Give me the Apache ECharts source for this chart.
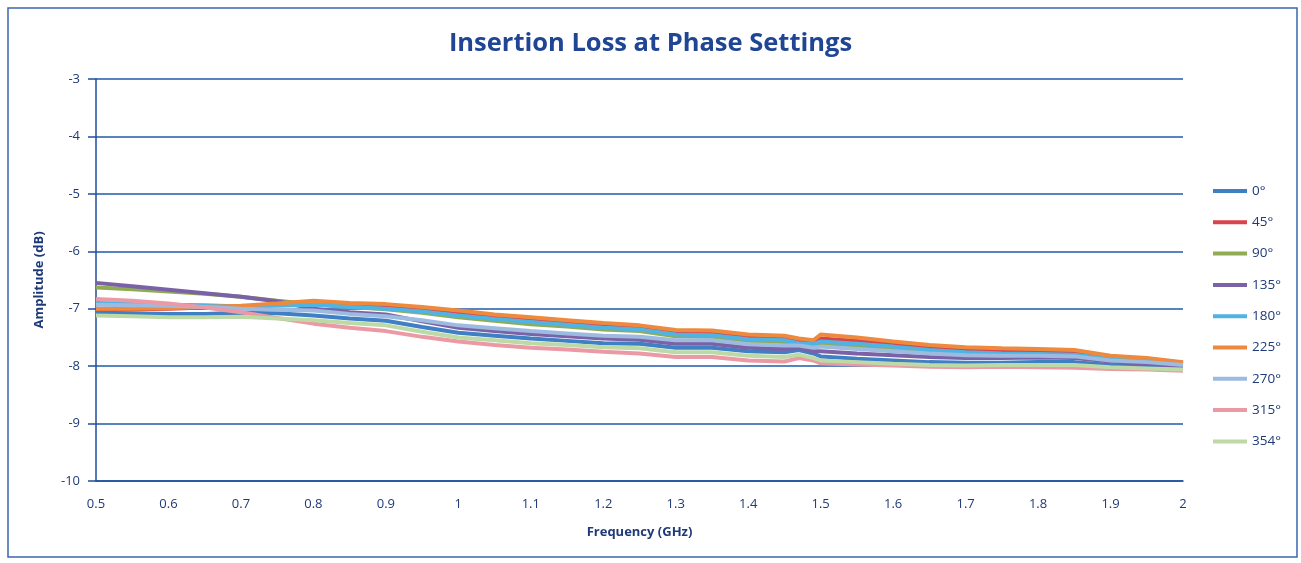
<!DOCTYPE html>
<html><head><meta charset="utf-8">
<script src="https://cdn.jsdelivr.net/npm/echarts@6/dist/echarts.min.js"></script>
<style>html,body{margin:0;padding:0;background:#fff}#c{width:1301px;height:563px}</style>
</head><body><div id="c"></div>
<script>
const freq = [0.5,0.55,0.6,0.65,0.7,0.75,0.8,0.85,0.9,0.95,1.0,1.05,1.1,1.15,1.2,1.25,1.3,1.35,1.4,1.45,1.47,1.49,1.5,1.55,1.6,1.65,1.7,1.75,1.8,1.85,1.9,1.95,2.0];
const seriesNames = ['0°','45°','90°','135°','180°','225°','270°','315°','354°'];
const p0   = [-7.07,-7.08,-7.09,-7.09,-7.07,-7.08,-7.12,-7.17,-7.21,-7.32,-7.42,-7.47,-7.52,-7.56,-7.60,-7.61,-7.68,-7.68,-7.74,-7.76,-7.72,-7.78,-7.83,-7.87,-7.90,-7.93,-7.94,-7.94,-7.93,-7.93,-7.98,-8.01,-8.03];
const p45  = [-7.01,-7.01,-7.00,-6.98,-6.96,-6.93,-6.89,-6.93,-6.95,-7.00,-7.07,-7.14,-7.19,-7.24,-7.29,-7.32,-7.41,-7.42,-7.49,-7.51,-7.56,-7.59,-7.52,-7.56,-7.62,-7.68,-7.72,-7.74,-7.75,-7.76,-7.84,-7.88,-7.94];
const p90  = [-6.63,-6.66,-6.70,-6.74,-6.79,-6.86,-6.92,-6.97,-7.01,-7.07,-7.15,-7.21,-7.27,-7.31,-7.36,-7.39,-7.48,-7.49,-7.56,-7.58,-7.62,-7.65,-7.60,-7.64,-7.69,-7.74,-7.78,-7.80,-7.81,-7.82,-7.89,-7.93,-7.97];
const p135 = [-6.55,-6.61,-6.67,-6.73,-6.79,-6.87,-7.00,-7.06,-7.10,-7.22,-7.33,-7.39,-7.44,-7.48,-7.52,-7.54,-7.61,-7.61,-7.68,-7.70,-7.68,-7.74,-7.74,-7.78,-7.81,-7.84,-7.86,-7.86,-7.85,-7.86,-7.92,-7.96,-8.00];
const p180 = [-6.90,-6.91,-6.93,-6.94,-6.96,-6.95,-6.93,-6.97,-7.00,-7.05,-7.12,-7.18,-7.23,-7.28,-7.33,-7.36,-7.45,-7.46,-7.53,-7.55,-7.60,-7.62,-7.57,-7.61,-7.66,-7.72,-7.76,-7.78,-7.79,-7.80,-7.87,-7.91,-7.96];
const p225 = [-7.00,-7.00,-6.99,-6.97,-6.95,-6.91,-6.86,-6.90,-6.92,-6.97,-7.03,-7.10,-7.15,-7.20,-7.25,-7.29,-7.37,-7.38,-7.45,-7.47,-7.52,-7.55,-7.45,-7.50,-7.57,-7.63,-7.67,-7.69,-7.70,-7.72,-7.82,-7.86,-7.93];
const p270 = [-6.93,-6.94,-6.95,-6.97,-7.00,-7.02,-7.03,-7.09,-7.13,-7.20,-7.29,-7.34,-7.39,-7.43,-7.47,-7.49,-7.55,-7.55,-7.62,-7.64,-7.64,-7.68,-7.66,-7.70,-7.74,-7.78,-7.81,-7.82,-7.82,-7.83,-7.90,-7.93,-7.98];
const p315 = [-6.83,-6.86,-6.91,-6.98,-7.06,-7.16,-7.26,-7.33,-7.39,-7.49,-7.57,-7.63,-7.68,-7.71,-7.75,-7.78,-7.84,-7.84,-7.90,-7.92,-7.86,-7.90,-7.95,-7.97,-7.99,-8.01,-8.02,-8.01,-8.02,-8.03,-8.05,-8.06,-8.08];
const p354 = [-7.12,-7.13,-7.15,-7.15,-7.14,-7.17,-7.20,-7.25,-7.29,-7.40,-7.50,-7.55,-7.60,-7.63,-7.67,-7.69,-7.76,-7.76,-7.82,-7.84,-7.80,-7.86,-7.90,-7.93,-7.96,-7.98,-7.99,-7.98,-7.98,-7.98,-8.02,-8.04,-8.06];
const allValues = [p0,p45,p90,p135,p180,p225,p270,p315,p354];
const colors = ['#3f7fc4','#d9434d','#8fac55','#7b62a6','#4fb4e3','#ee8a3e','#9dbbe0','#eb9aa5','#bcd9a6'];

const navy = '#1f3a78';
const FONT = 'Open Sans';
const chart = echarts.init(document.getElementById('c'), null, {renderer:'canvas'});
chart.setOption({
  backgroundColor:'#fff',
  animation:false,
  title:{text:'Insertion Loss at Phase Settings', left:'center', top:26,
    textStyle:{fontFamily:FONT, fontWeight:'bold', fontSize:25.5, color:'#1f4594'}},
  graphic:[{type:'rect', shape:{x:8,y:8,width:1289,height:549}, style:{fill:'none', stroke:'#3a67b0', lineWidth:1.5}}],
  legend:{orient:'vertical', left:1213, top:183, padding:0, itemWidth:34, itemHeight:4, itemGap:15.3, icon:'rect',
    textStyle:{fontFamily:FONT, fontSize:13.5, color:navy, lineHeight:16, padding:[0,0,0,0]},
    data:seriesNames},
  grid:{left:96, right:118, top:79, bottom:82},
  xAxis:{type:'value', min:0.5, max:2, interval:0.1,
    name:'Frequency (GHz)', nameLocation:'middle', nameGap:45,
    nameTextStyle:{fontFamily:FONT, fontWeight:'bold', fontSize:13, color:navy},
    axisLine:{lineStyle:{color:'#1f4d9a', width:1.5}},
    axisTick:{show:false},
    axisLabel:{fontFamily:FONT, fontSize:13, color:navy, margin:17},
    splitLine:{show:false}},
  yAxis:{type:'value', min:-10, max:-3, interval:1,
    name:'Amplitude (dB)', nameLocation:'middle', nameGap:50,
    nameTextStyle:{fontFamily:FONT, fontWeight:'bold', fontSize:13, color:navy},
    axisLine:{show:true, lineStyle:{color:'#1f4d9a', width:1.5}},
    axisTick:{show:true, length:8, lineStyle:{color:'#1f4d9a', width:1.5}},
    axisLabel:{fontFamily:FONT, fontSize:13, color:navy, margin:16},
    splitLine:{lineStyle:{color:'#1f5aa8', width:1.5}}},
  series: seriesNames.map((n,i)=>({
    name:n, type:'line', showSymbol:false, smooth:false,
    data: freq.map((f,j)=>[f, allValues[i][j]]),
    lineStyle:{width:4, color:colors[i]}, itemStyle:{color:colors[i]}
  }))
});
</script></body></html>
